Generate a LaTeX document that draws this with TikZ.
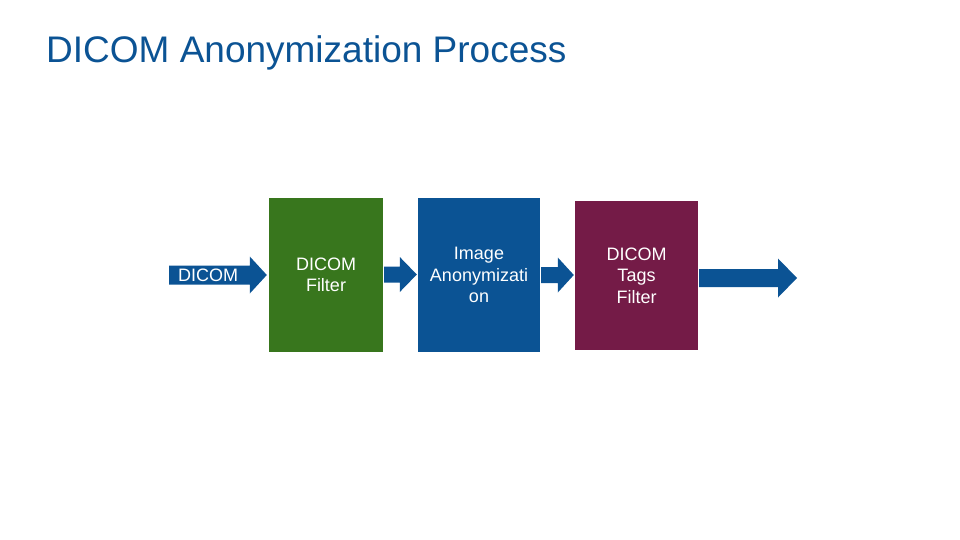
\documentclass[tikz,border=0pt]{standalone}
\usepackage{fontspec}
\setmainfont{Liberation Sans}
\usetikzlibrary{calc}
\definecolor{titleblue}{HTML}{0B5394}
\definecolor{boxgreen}{HTML}{38761D}
\definecolor{boxblue}{HTML}{0B5394}
\definecolor{boxpurple}{HTML}{741B47}
\tikzset{
  procbox/.style={rectangle, draw=none, inner sep=0pt, align=center, text=white,
    font=\fontsize{18}{21.5}\selectfont},
  arrowfill/.style={fill=boxblue},
  lbl/.style={text=white, inner sep=0pt, font=\fontsize{18}{21}\selectfont},
}
\newcommand{\blockarrow}[5]{%
  \fill[arrowfill] let \p1=(#1), \p2=(#2) in
    (\x1,\y1+#3) -- (\x2-#5,\y1+#3) -- (\x2-#5,\y1+#4) -- (\x2,\y1)
    -- (\x2-#5,\y1-#4) -- (\x2-#5,\y1-#3) -- (\x1,\y1-#3) -- cycle;}
\begin{document}
\begin{tikzpicture}[x=1pt,y=-1pt]
\useasboundingbox (0,0) rectangle (960,540);
\node[anchor=base west, inner sep=0pt, text=titleblue, font=\fontsize{37}{40}\selectfont] (title) at (46,62.5) {DICOM Anonymization Process};
\node[procbox, fill=boxgreen, minimum width=114pt, minimum height=154pt] (green) at (326,275) {DICOM\\Filter};
\node[procbox, fill=boxblue, minimum width=122pt, minimum height=154pt] (blue) at (479,275) {Image\\Anonymizati\\on};
\node[procbox, fill=boxpurple, minimum width=123pt, minimum height=149pt] (purple) at (636.5,275.5) {DICOM\\Tags\\Filter};
\coordinate (in) at (169,275);
\coordinate (out) at (797,278);
\coordinate (outstart) at ($(purple.east)+(1,2.5)$);
\blockarrow{in}{$(green.west)+(-2,0)$}{9.5pt}{18.5pt}{17pt}
\blockarrow{$(green.east)+(1,-0.5)$}{$(blue.west)+(-1,0)$}{8pt}{17.5pt}{17pt}
\blockarrow{$(blue.east)+(1,0)$}{$(purple.west)+(-1,0)$}{8pt}{17.5pt}{16pt}
\blockarrow{outstart}{out}{9pt}{19.5pt}{19pt}
\node[lbl] (dlabel) at (208,275.5) {DICOM};
\end{tikzpicture}
\end{document}
